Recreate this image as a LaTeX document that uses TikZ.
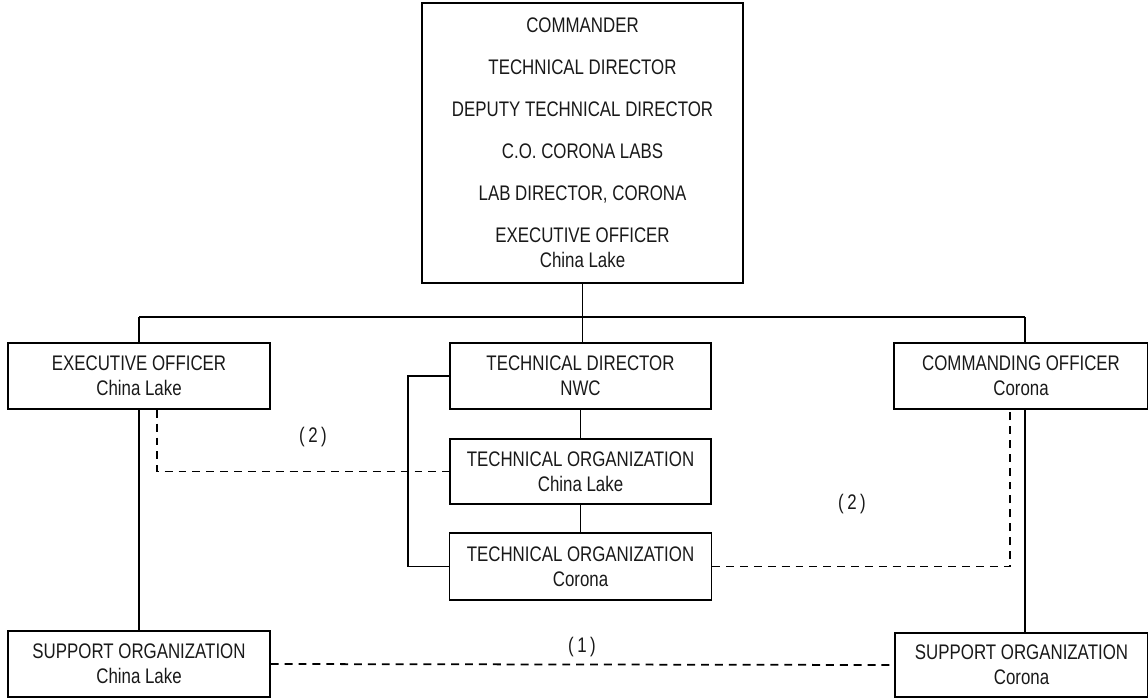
\documentclass[tikz,border=0pt]{standalone}
\usepackage{fontspec}
\setmainfont{Liberation Sans}[FakeStretch=0.8]
\begin{document}
\begin{tikzpicture}[x=0.02cm, y=-0.02cm,
    every node/.style={font=\fontsize{12}{14.2}\selectfont, text=black!90},
    orgbox/.style={draw, line width=0.9pt, align=center, inner sep=0pt},
    link/.style={line width=1pt},
    dashlink/.style={line width=1pt, dash pattern=on 4.5pt off 3.4pt}]
    \useasboundingbox (0,0) rectangle (1148,699);
    % top box
    \node[orgbox, minimum width=6.42cm, minimum height=5.6cm] (cmdr) at (582.5,143)
        {COMMANDER\\[9.7pt] TECHNICAL DIRECTOR\\[9.7pt] DEPUTY TECHNICAL DIRECTOR\\[9.7pt]
         C.O. CORONA LABS\\[9.7pt] LAB DIRECTOR, CORONA\\[9.7pt] EXECUTIVE OFFICER\\ China Lake};
    % second row
    \node[orgbox, minimum width=5.24cm, minimum height=1.32cm] (xo) at (139,376) {EXECUTIVE OFFICER\\ China Lake};
    \node[orgbox, minimum width=5.22cm, minimum height=1.32cm] (tdir) at (580.5,376) {TECHNICAL DIRECTOR\\ NWC};
    \node[orgbox, minimum width=5.08cm, minimum height=1.32cm] (co) at (1021,376) {COMMANDING OFFICER\\ Corona};
    % technical organizations
    \node[orgbox, minimum width=5.22cm, minimum height=1.3cm] (torgcl) at (580.5,471.5) {TECHNICAL ORGANIZATION\\ China Lake};
    \node[orgbox, minimum width=5.24cm, minimum height=1.34cm] (torgco) at (580.5,566.5) {TECHNICAL ORGANIZATION\\ Corona};
    % support organizations
    \node[orgbox, minimum width=5.24cm, minimum height=1.32cm] (supcl) at (139,664) {SUPPORT ORGANIZATION\\ China Lake};
    \node[orgbox, minimum width=5.06cm, minimum height=1.28cm] (supco) at (1021.5,665) {SUPPORT ORGANIZATION\\ Corona};
    % notes
    \node (notea) at (313,437) {(\,2\,)};
    \node (noteb) at (852,504) {(\,2\,)};
    \node (notec) at (582,647) {(\,1\,)};
    % solid lines
    \coordinate (busl) at (139,317);
    \coordinate (busr) at (1025,317);
    \draw[link] (busl) -- (busr);
    \draw[link] (cmdr.south) -- (cmdr.south |- tdir.north);
    \draw[link] (busl) -- (busl |- xo.north);
    \draw[link] (busr) -- (busr |- co.north);
    \draw[link] (xo.south) -- (supcl.north);
    \draw[link] (busr |- co.south) -- (busr |- supco.north);
    \draw[link] (tdir.south) -- (torgcl.north);
    \draw[link] (torgcl.south) -- (torgco.north);
    \draw[link] (tdir.west) -- ++(-41,0) |- (torgco.west);
    % dashed lines
    \draw[dashlink] ([xshift=0.36cm]xo.south) |- (torgcl.west);
    \draw[dashlink] (torgco.east) -| ([xshift=-0.22cm]co.south);
    \draw[dashlink] (supcl.east) -- (supco.west);
\end{tikzpicture}
\end{document}
